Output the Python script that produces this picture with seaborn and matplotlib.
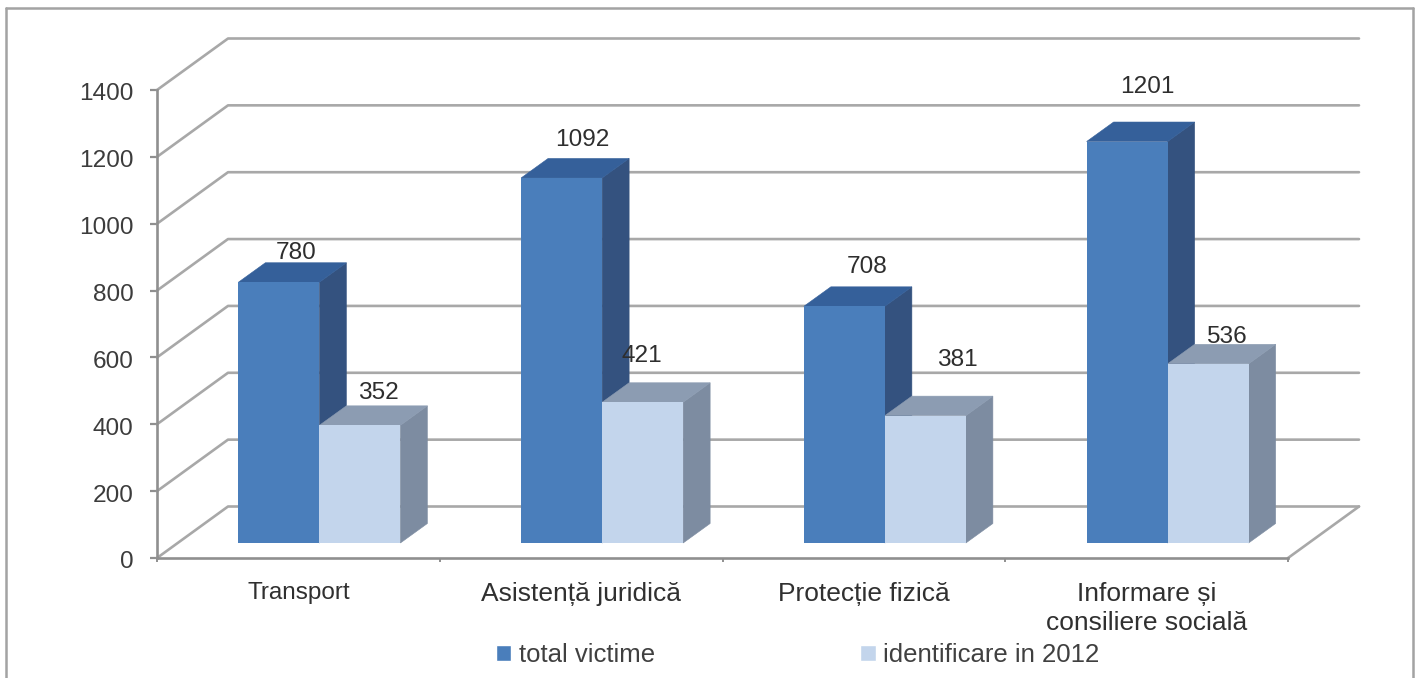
import matplotlib
matplotlib.use("Agg")
import matplotlib.pyplot as plt
import pandas as pd
import seaborn as sns
from matplotlib.lines import Line2D
from matplotlib.patches import Patch, Polygon
from matplotlib.transforms import ScaledTranslation

categories = ["Transport", "Asistență juridică", "Protecție fizică", "Informare și\nconsiliere socială"]
series_names = ["total victime", "identificare in 2012"]
total_victime = [780, 1092, 708, 1201]
identificare = [352, 421, 381, 536]
y_ticks = [0, 200, 400, 600, 800, 1000, 1200, 1400]

W, H = 1422, 678
GRID = "#a8a8a8"
TEXT = "#3c3c3c"
front_cols = ["#4a7ebb", "#c3d5ec"]
side_cols = ["#34527f", "#7d8ca1"]
top_cols = ["#35609a", "#8c9cb2"]

# label nudges in pixels from the bar's front top centre
dark_nudge = [(17, 29), (21, 38), (23, 39), (20, 55)]
light_nudge = [(19, 32), (-1, 46), (32, 56), (18, 27)]


def axes_px(left, right, top, bottom):
    return [left / W, 1 - bottom / H, (right - left) / W, (bottom - top) / H]


sns.set_theme(style="white")
plt.rcParams["font.family"] = ["Liberation Sans", "DejaVu Sans"]

fig = plt.figure(figsize=(W / 100, H / 100), dpi=100)
fig.patch.set_facecolor("white")

# outer frame, the bottom edge is cut off in the picture
for xs, ys in [((6, 6), (8, 678)), ((6, 1413), (8, 8)), ((1413, 1413), (8, 678))]:
    fig.add_artist(Line2D([x / W for x in xs], [1 - y / H for y in ys], color="#a3a3a3", lw=1.8))

# front plane: axis, ticks, and the walls/floor lines
ax = fig.add_axes(axes_px(157, 1288, 90, 558))
ax.set_xlim(-0.5, 3.5)
ax.set_ylim(0, 1400)
ax.patch.set_alpha(0)
unit_x = (1288 - 157) / 4
unit_y = (558 - 90) / 1400
depth_x = 71 / unit_x
depth_y = 51.5 / unit_y
for v in y_ticks:
    ax.plot([-0.5, -0.5 + depth_x, 3.5 + depth_x], [v, v + depth_y, v + depth_y],
            color=GRID, lw=1.9, clip_on=False, zorder=1)
ax.plot([3.5, 3.5 + depth_x], [0, depth_y], color=GRID, lw=1.9, clip_on=False, zorder=1)

sns.despine(ax=ax, top=True, right=True)
for name in ["left", "bottom"]:
    ax.spines[name].set_color("#8f8f8f")
    ax.spines[name].set_linewidth(1.9)
ax.set_yticks(y_ticks)
ax.set_yticklabels([str(v) for v in y_ticks], fontsize=17.6, color=TEXT)
ax.tick_params(axis="y", left=True, length=5, width=1.6, color="#8f8f8f", pad=12)
for lab in ax.get_yticklabels():
    lab.set_transform(lab.get_transform() + ScaledTranslation(0, -2 / 100, fig.dpi_scale_trans))
ax.set_xticks([-0.5, 0.5, 1.5, 2.5, 3.5])
ax.set_xticklabels([])
ax.tick_params(axis="x", bottom=True, length=3, width=1.4, color="#8f8f8f")
for i, cat in enumerate(categories):
    ax.annotate(cat, (i, 0), xytext=(0, -23.5 * 0.72), textcoords="offset points", ha="center", va="top",
                fontsize=17.5 if i == 0 else 19, color="#303030", linespacing=1.3,
                annotation_clip=False)

# bars sit a little way back from the axis, on their own axes
bar_shift_x, bar_shift_y = 21, 15
ax_bar = fig.add_axes(axes_px(157 + bar_shift_x, 1288 + bar_shift_x, 90 - bar_shift_y, 558 - bar_shift_y))
ax_bar.patch.set_alpha(0)
df = pd.DataFrame({
    "categorie": categories * 2,
    "valoare": total_victime + identificare,
    "serie": [series_names[0]] * 4 + [series_names[1]] * 4,
})
sns.barplot(df, x="categorie", y="valoare", hue="serie", palette=front_cols, hue_order=series_names,
            width=0.573, gap=0, saturation=1, dodge=True, legend=False, ax=ax_bar, zorder=3)
ax_bar.set_xlim(-0.5, 3.5)
ax_bar.set_ylim(0, 1400)
ax_bar.axis("off")

bar_dx = 27 / unit_x
bar_dy = 19.5 / unit_y
for s, container in enumerate(ax_bar.containers):
    nudges = dark_nudge if s == 0 else light_nudge
    for patch, (nx, ny) in zip(container.patches, nudges):
        patch.set_linewidth(0)
        x0, x1 = patch.get_x(), patch.get_x() + patch.get_width()
        top = patch.get_height()
        z = 1 if s == 0 else 2
        ax_bar.add_patch(Polygon([(x1, 0), (x1 + bar_dx, bar_dy), (x1 + bar_dx, top + bar_dy), (x1, top)],
                                 facecolor=side_cols[s], edgecolor=side_cols[s], lw=0.4, zorder=z, clip_on=False))
        ax_bar.add_patch(Polygon([(x0, top), (x0 + bar_dx, top + bar_dy), (x1 + bar_dx, top + bar_dy), (x1, top)],
                                 facecolor=top_cols[s], edgecolor=top_cols[s], lw=0.4, zorder=z, clip_on=False))
        ax_bar.annotate(f"{top:.0f}", ((x0 + x1) / 2, top), xytext=(nx * 0.72, ny * 0.72),
                        textcoords="offset points", ha="center", va="center", fontsize=17.6,
                        color="#2e2e2e", annotation_clip=False, zorder=5)

handles = [Patch(facecolor=front_cols[0], label=series_names[0]),
           Patch(facecolor=front_cols[1], label=series_names[1])]
fig.legend(handles=handles, ncols=2, frameon=False, fontsize=18.5, labelcolor="#404040",
           loc="center left", bbox_to_anchor=(496 / W, 1 - 655 / H), borderaxespad=0, borderpad=0,
           handlelength=0.6, handleheight=0.62, handletextpad=0.28, columnspacing=8.0)

fig.savefig("out.png", dpi=100)
